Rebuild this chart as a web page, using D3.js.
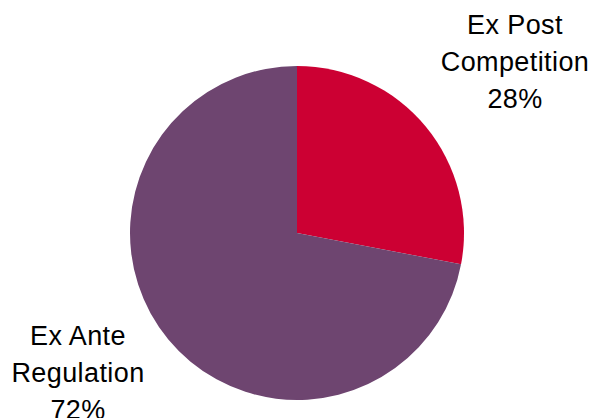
<!DOCTYPE html>
<html><head><meta charset="utf-8">
<script src="https://cdn.jsdelivr.net/npm/d3@7"></script>
<style>body{margin:0;background:#fff;}svg{display:block;}</style>
</head><body>
<svg id="chart" width="593" height="418"></svg>
<script>
const categories = ["Ex Post Competition", "Ex Ante Regulation"];
const labelLines = [["Ex Post", "Competition", "28%"], ["Ex Ante", "Regulation", "72%"]];
const values = [28, 72];
const colors = ["#CC0033", "#6E4570"];

const svg = d3.select("#chart");
const cx = 297, cy = 233, r = 167;
const pie = d3.pie().sort(null).value(d => d)(values);
const arc = d3.arc().innerRadius(0).outerRadius(r);
const g = svg.append("g").attr("transform", `translate(${cx},${cy})`);
g.selectAll("path").data(pie).join("path")
  .attr("d", arc).attr("fill", (d, i) => colors[i]);

const labelPos = [[515, 34], [78, 345]];
const lineH = 37;
labelLines.forEach((lines, i) => {
  const t = svg.append("text")
    .attr("text-anchor", "middle")
    .attr("font-family", "Liberation Sans, Arial, sans-serif")
    .attr("font-size", 27).attr("letter-spacing", 0.4).attr("fill", "#000");
  lines.forEach((ln, j) => {
    t.append("tspan").attr("x", labelPos[i][0]).attr("y", labelPos[i][1] + j * lineH).text(ln);
  });
});
</script>
</body></html>
